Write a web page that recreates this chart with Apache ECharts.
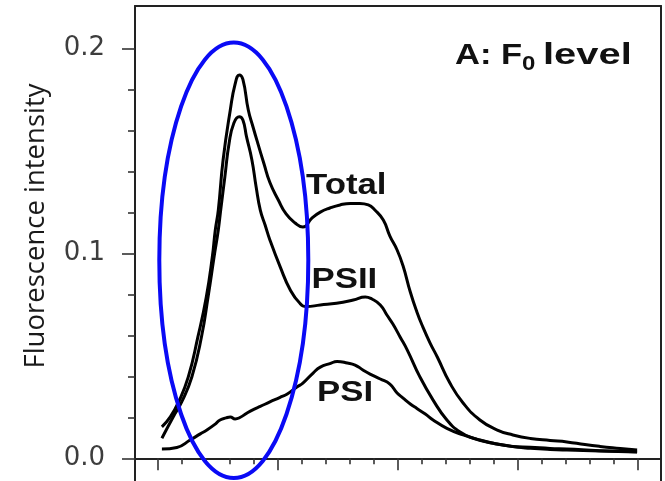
<!DOCTYPE html>
<html>
<head>
<meta charset="utf-8">
<script src="https://cdn.jsdelivr.net/npm/echarts@6/dist/echarts.min.js"></script>
<style>
html,body{margin:0;padding:0;background:#fff;}
#chart{width:665px;height:481px;}
</style>
</head>
<body>
<div id="chart"></div>
<script>
// ---- data (wavelength in nm, fluorescence intensity) ----
var totalX = [670.7,672.1,673.4,675.1,676.7,678.1,679.1,679.6,680.1,680.9,682.1,682.9,683.6,684.2,685.1,685.9,686.7,687.7,688.7,690.1,691.4,692.9,694.2,695.7,697.1,698.7,700.4,702.1,703.7,705.1,706.2,707.6,708.7,709.9,710.9,712.1,713.2,714.2,715.4,716.6,718.7,720.9,723.7,726.6,729.2,732.1,735.4,738.2,741.2,743.7,747.1,749.9];
var totalY = [0.0153,0.0202,0.0270,0.0397,0.0592,0.0787,0.0982,0.1114,0.1211,0.1455,0.1699,0.1825,0.1870,0.1848,0.1699,0.1615,0.1535,0.1438,0.1345,0.1260,0.1192,0.1148,0.1128,0.1172,0.1201,0.1221,0.1236,0.1243,0.1243,0.1236,0.1211,0.1162,0.1084,0.1016,0.0938,0.0811,0.0714,0.0640,0.0562,0.0494,0.0367,0.0270,0.0187,0.0138,0.0114,0.0097,0.0087,0.0080,0.0067,0.0058,0.0048,0.0040];

var psiiX = [670.7,672.6,674.0,675.7,677.3,678.4,679.4,680.1,680.5,681.2,681.9,682.7,683.6,684.2,684.8,685.7,686.4,687.1,687.9,688.7,690.4,692.1,693.7,694.8,697.1,699.8,702.6,704.6,705.7,707.1,708.2,709.2,710.4,711.6,713.7,715.9,718.2,720.4,722.6,725.9,729.2,732.1,735.4,738.2,743.7,749.9];
var psiiY = [0.0098,0.0203,0.0275,0.0398,0.0593,0.0788,0.0983,0.1114,0.1211,0.1374,0.1537,0.1636,0.1666,0.1650,0.1569,0.1455,0.1325,0.1211,0.1138,0.1065,0.0935,0.0821,0.0756,0.0740,0.0748,0.0756,0.0772,0.0787,0.0777,0.0748,0.0699,0.0655,0.0592,0.0528,0.0397,0.0284,0.0187,0.0128,0.0098,0.0073,0.0058,0.0054,0.0048,0.0045,0.0037,0.0032];

var psiX = [670.7,673.2,675.4,677.1,678.2,679.6,680.4,681.4,682.1,682.9,683.7,684.9,686.1,687.1,688.7,690.4,691.6,693.2,694.2,695.9,697.1,698.7,699.9,701.6,702.9,704.2,705.4,707.1,708.7,709.9,710.9,712.1,713.2,714.6,715.9,718.2,720.9,723.7,726.6,729.2,732.1,735.4,738.2,743.7,749.9];
var psiY = [0.0045,0.0053,0.0089,0.0119,0.0138,0.0167,0.0187,0.0197,0.0201,0.0192,0.0199,0.0221,0.0240,0.0253,0.0275,0.0297,0.0314,0.0348,0.0367,0.0416,0.0445,0.0462,0.0472,0.0465,0.0455,0.0431,0.0411,0.0387,0.0362,0.0319,0.0294,0.0265,0.0243,0.0216,0.0187,0.0146,0.0114,0.0089,0.0070,0.0057,0.0049,0.0043,0.0040,0.0036,0.0031];

// ---- ticks ----
var yMajorTicks = [0, 0.1, 0.2];
var yMinorTicks = [0.02, 0.04, 0.06, 0.08, 0.12, 0.14, 0.16, 0.18];
var xMajorTicks = [670, 690, 710, 730, 750];
var xMinorTicks = [674, 678, 682, 686, 694, 698, 702, 706, 714, 718, 722, 726, 734, 738, 742, 746];

var seriesNames = ['Total', 'PSII', 'PSI'];
var yAxisTitle = 'Fluorescence intensity';
var panelTitle = ['A: F', '0', 'level'];

function pairs(xs, ys) { return xs.map(function (x, i) { return [x, ys[i]]; }); }

var X_MIN = 666.217, X_MAX = 753.883;
var Y_MIN = -0.01107, Y_MAX = 0.22063;
var AXIS_COLOR = '#222';

var chart = echarts.init(document.getElementById('chart'), null, {renderer: 'canvas'});

function baseY(extra) {
  return Object.assign({
    type: 'value', min: Y_MIN, max: Y_MAX, position: 'left',
    splitLine: {show: false},
    axisLine: {show: false, onZero: false},
    axisTick: {show: false},
    axisLabel: {show: false}
  }, extra);
}
function baseX(extra) {
  return Object.assign({
    type: 'value', min: X_MIN, max: X_MAX, position: 'bottom',
    splitLine: {show: false},
    axisLine: {show: false, onZero: false},
    axisTick: {show: false},
    axisLabel: {show: false}
  }, extra);
}

var lineStyle = {color: '#000', width: 3};
function lineSeries(name, xs, ys) {
  return {
    type: 'line', name: name, data: pairs(xs, ys),
    xAxisIndex: 0, yAxisIndex: 0,
    showSymbol: false, symbol: 'none', smooth: 0.5,
    lineStyle: lineStyle, silent: true, z: 3
  };
}

var boldFont = '"Liberation Sans", Arial, sans-serif';
function label(text, x, y, size, sx) {
  return {type: 'text', x: x, y: y, scaleX: sx, silent: true, z: 20,
    style: {text: text, font: 'bold ' + size + 'px ' + boldFont, fill: '#111',
      align: 'left', verticalAlign: 'middle', textAlign: 'left', textVerticalAlign: 'middle'}};
}

chart.setOption({
  backgroundColor: '#ffffff',
  animation: false,
  grid: {left: 135, right: 4, top: 6, bottom: 0, containLabel: false},
  xAxis: [
    baseX({
      axisLine: {show: true, onZero: true, onZeroAxisIndex: 0, lineStyle: {color: AXIS_COLOR, width: 2}},
      axisTick: {show: true, customValues: xMajorTicks, length: 12, lineStyle: {color: '#333', width: 1.6}}
    }),
    baseX({
      axisLine: {show: false, onZero: true, onZeroAxisIndex: 1},
      axisTick: {show: true, customValues: xMinorTicks, length: 6, lineStyle: {color: '#333', width: 1.6}}
    }),
    baseX({
      position: 'top',
      axisLine: {show: true, onZero: false, lineStyle: {color: AXIS_COLOR, width: 2}}
    })
  ],
  yAxis: [
    baseY({
      axisLine: {show: true, onZero: false, lineStyle: {color: AXIS_COLOR, width: 2}},
      axisTick: {show: true, customValues: yMajorTicks, length: 13, lineStyle: {color: '#333', width: 1.6}},
      axisLabel: {show: true, customValues: yMajorTicks, margin: 30, fontFamily: '"DejaVu Sans", sans-serif', fontSize: 26, color: '#3d3d3d',
        formatter: function (v) { return v.toFixed(1); }}
    }),
    baseY({
      axisTick: {show: true, customValues: yMinorTicks, length: 7, lineStyle: {color: '#333', width: 1.6}}
    }),
    baseY({
      position: 'right',
      axisLine: {show: true, onZero: false, lineStyle: {color: AXIS_COLOR, width: 2}}
    })
  ],
  series: [
    lineSeries(seriesNames[0], totalX, totalY),
    lineSeries(seriesNames[1], psiiX, psiiY),
    lineSeries(seriesNames[2], psiX, psiY)
  ],
  graphic: [
    {type: 'text', x: 36, y: 226, rotation: Math.PI / 2, silent: true,
      style: {text: yAxisTitle, font: '27.5px "Open Sans", sans-serif', fill: '#1a1a1a', align: 'center', verticalAlign: 'middle', textAlign: 'center', textVerticalAlign: 'middle'}},
    label(seriesNames[0], 306, 185.5, 29, 1.2),
    label(seriesNames[1], 311.5, 280, 29, 1.2),
    label(seriesNames[2], 317, 392.5, 29, 1.2),
    label(panelTitle[0], 455, 56, 30, 1.15),
    label(panelTitle[1], 522, 64.5, 20, 1.2),
    label(panelTitle[2], 543, 56, 30, 1.33),
    {type: 'ellipse', silent: true, z: 10,
      shape: {cx: 233.8, cy: 260.3, rx: 74.5, ry: 217.7},
      style: {fill: null, stroke: '#0a0af5', lineWidth: 4}}
  ]
});
</script>
</body>
</html>
